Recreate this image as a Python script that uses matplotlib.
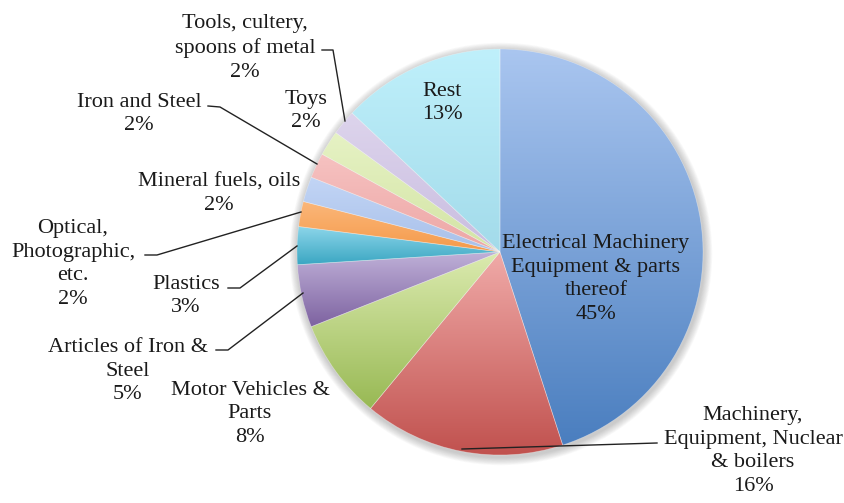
import numpy as np
import matplotlib.pyplot as plt
from matplotlib.colors import LinearSegmentedColormap
from matplotlib.patches import Circle

# Share of exports by product group (%), clockwise from 12 o'clock
labels = ['Electrical Machinery\nEquipment & parts\nthereof',
          'Machinery,\nEquipment, Nuclear\n& boilers',
          'Motor Vehicles &\nParts',
          'Articles of Iron &\nSteel',
          'Plastics',
          'Optical,\nPhotographic,\netc.',
          'Mineral fuels, oils',
          'Iron and Steel',
          'Tools, cultery,\nspoons of metal',
          'Toys',
          'Rest']
shares = [45, 16, 8, 5, 3, 2, 2, 2, 2, 2, 13]

top_colors = ['#aac6f0', '#f0aaa8', '#dcebb0', '#bfb0d8', '#8dd6ea', '#fbb77a',
              '#c2d5f5', '#f6c2c1', '#e6f2c4', '#ddd4ec', '#bff0fb']
bottom_colors = ['#4a7ebf', '#c0504d', '#98b954', '#7d62a0', '#3aa6c2', '#f59a4a',
                 '#a8c0ea', '#eda6a5', '#d3e4a5', '#c9bde0', '#a3dbea']

# label centres and leader lines (pixel coordinates of the 845x503 canvas)
label_pos = [(596, 279), (753, 451), (250, 414), (128, 371), (186, 296), (73, 264),
             (219, 194), (139, 114), (245, 48), (306, 111), (442, 103)]
leaders = {
    1: [(657, 443), (462, 449)],
    3: [(216, 350), (228, 350), (303, 293)],
    4: [(228, 288), (240, 288), (297, 246)],
    5: [(145, 255), (157, 255), (301, 212)],
    7: [(208, 106), (220, 107), (317, 164)],
    8: [(322, 50), (333, 50), (345, 121)],
}

H = 503
plt.rcParams['font.family'] = ['Liberation Serif', 'DejaVu Serif']

fig = plt.figure(figsize=(8.45, 5.03), dpi=100)
ax = fig.add_axes([0, 0, 1, 1])

cx, cy, r = 500, H - 252, 203

# soft shadow under the pie
for i in range(10):
    ax.add_patch(Circle((cx + 1, cy - 2), r + 1 + i * 0.8, color='#606060',
                        alpha=0.035, lw=0, zorder=0))

wedges, _ = ax.pie(shares, startangle=90, counterclock=False, center=(cx, cy),
                   radius=r, wedgeprops=dict(edgecolor=(1, 1, 1, 0.35), linewidth=0.5))

grad = np.linspace(0, 1, 256).reshape(-1, 1)
for w, c0, c1 in zip(wedges, top_colors, bottom_colors):
    w.set_facecolor('none')
    v = w.get_path().vertices
    cmap = LinearSegmentedColormap.from_list('g', [c1, c0])
    im = ax.imshow(grad, cmap=cmap, origin='lower', aspect='auto',
                   extent=(v[:, 0].min(), v[:, 0].max(), v[:, 1].min(), v[:, 1].max()),
                   zorder=1)
    im.set_clip_path(w)
    w.set_zorder(2)

for i, (lab, s) in enumerate(zip(labels, shares)):
    x, y = label_pos[i]
    ax.text(x, H - y, f'{lab}\n{s}%', ha='center', va='center', fontsize=16,
            linespacing=1.32, color='#1a1a1a', zorder=5)

for pts in leaders.values():
    xs = [p[0] for p in pts]
    ys = [H - p[1] for p in pts]
    ax.plot(xs, ys, color='#222222', lw=1.0, zorder=4)

ax.set_xlim(0, 845)
ax.set_ylim(0, H)
ax.set_aspect('equal')
ax.axis('off')

fig.savefig('out.png', dpi=100)
